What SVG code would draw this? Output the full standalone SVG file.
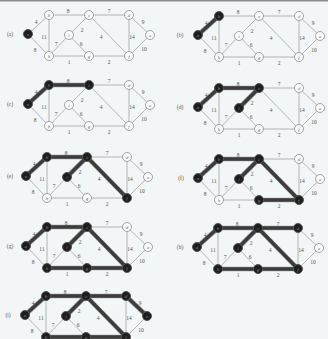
<svg xmlns="http://www.w3.org/2000/svg" xmlns:xlink="http://www.w3.org/1999/xlink" width="328" height="339" viewBox="0 0 328 339">
<style>
.bg{fill:#f2f6f6}
.thin line{stroke:#a2a6a6;stroke-width:0.8}
.thick line{stroke:#3c3c3c;stroke-width:3.4;stroke-linecap:round}
.halo line{stroke:#9a9a9a;stroke-width:4.6;stroke-linecap:round}
.w{font-family:"Liberation Serif",serif;font-size:5.5px;fill:#555;text-anchor:middle}
.lbl{font-family:"Liberation Serif",serif;font-size:5.5px;fill:#555;text-anchor:middle}
.node circle{fill:#fbfcfc;stroke:#8a8e8e;stroke-width:0.8}
.node text{font-family:"Liberation Serif",serif;font-style:italic;font-size:5px;fill:#666;text-anchor:middle}
.node.dark circle{fill:#1e1e1e;stroke:#555;stroke-width:1}
.node.dark text{fill:#888}
</style>
<defs>
<g id="base" class="thin">
<line x1="0" y1="0" x2="21" y2="-19"/>
<line x1="21" y1="-19" x2="61" y2="-19"/>
<line x1="61" y1="-19" x2="101" y2="-19"/>
<line x1="101" y1="-19" x2="122" y2="1"/>
<line x1="122" y1="1" x2="101" y2="22"/>
<line x1="101" y1="-19" x2="101" y2="22"/>
<line x1="61" y1="-19" x2="101" y2="22"/>
<line x1="61" y1="-19" x2="41" y2="1"/>
<line x1="41" y1="1" x2="61" y2="22"/>
<line x1="41" y1="1" x2="21" y2="22"/>
<line x1="21" y1="-19" x2="21" y2="22"/>
<line x1="0" y1="0" x2="21" y2="22"/>
<line x1="21" y1="22" x2="61" y2="22"/>
<line x1="61" y1="22" x2="101" y2="22"/>
</g>
<g id="weights">
<text class="w" x="8" y="-10">4</text>
<text class="w" x="40" y="-21">8</text>
<text class="w" x="81" y="-21">7</text>
<text class="w" x="115" y="-10">9</text>
<text class="w" x="116" y="17">10</text>
<text class="w" x="104" y="5">14</text>
<text class="w" x="73" y="5">4</text>
<text class="w" x="54" y="-2">2</text>
<text class="w" x="53" y="12">6</text>
<text class="w" x="28" y="12">7</text>
<text class="w" x="16" y="5">11</text>
<text class="w" x="7" y="18">8</text>
<text class="w" x="41" y="30">1</text>
<text class="w" x="81" y="30">2</text>
</g>
</defs>
<rect class="bg" x="0" y="0" width="328" height="339"/>
<rect x="0" y="0" width="328" height="1.5" fill="#8a8e8e"/>

<!-- (a) -->
<g id="panel-a" transform="translate(28,34)">
<text class="lbl" x="-18" y="2">(a)</text>
<use xlink:href="#base"/>
<g id="a-connectors"></g>
<use xlink:href="#weights"/>
<g id="a-na" class="node dark"><circle cx="0" cy="0" r="4.5"/><text x="0" y="1.7">a</text></g>
<g id="a-nb" class="node"><circle cx="21" cy="-19" r="4.5"/><text x="21" y="-17.3">b</text></g>
<g id="a-nc" class="node"><circle cx="61" cy="-19" r="4.5"/><text x="61" y="-17.3">c</text></g>
<g id="a-nd" class="node"><circle cx="101" cy="-19" r="4.5"/><text x="101" y="-17.3">d</text></g>
<g id="a-ne" class="node"><circle cx="122" cy="1" r="4.5"/><text x="122" y="2.7">e</text></g>
<g id="a-nf" class="node"><circle cx="101" cy="22" r="4.5"/><text x="101" y="23.7">f</text></g>
<g id="a-ng" class="node"><circle cx="61" cy="22" r="4.5"/><text x="61" y="23.7">g</text></g>
<g id="a-nh" class="node"><circle cx="21" cy="22" r="4.5"/><text x="21" y="23.7">h</text></g>
<g id="a-ni" class="node"><circle cx="41" cy="1" r="4.5"/><text x="41" y="2.7">i</text></g>
</g>

<!-- (b) -->
<g id="panel-b" transform="translate(198,35)">
<text class="lbl" x="-18" y="2">(b)</text>
<use xlink:href="#base"/>
<g id="b-connectors">
<g class="halo"><line x1="0" y1="0" x2="21" y2="-19"/></g>
<g class="thick"><line x1="0" y1="0" x2="21" y2="-19"/></g>
</g>
<use xlink:href="#weights"/>
<g id="b-na" class="node dark"><circle cx="0" cy="0" r="4.5"/><text x="0" y="1.7">a</text></g>
<g id="b-nb" class="node dark"><circle cx="21" cy="-19" r="4.5"/><text x="21" y="-17.3">b</text></g>
<g id="b-nc" class="node"><circle cx="61" cy="-19" r="4.5"/><text x="61" y="-17.3">c</text></g>
<g id="b-nd" class="node"><circle cx="101" cy="-19" r="4.5"/><text x="101" y="-17.3">d</text></g>
<g id="b-ne" class="node"><circle cx="122" cy="1" r="4.5"/><text x="122" y="2.7">e</text></g>
<g id="b-nf" class="node"><circle cx="101" cy="22" r="4.5"/><text x="101" y="23.7">f</text></g>
<g id="b-ng" class="node"><circle cx="61" cy="22" r="4.5"/><text x="61" y="23.7">g</text></g>
<g id="b-nh" class="node"><circle cx="21" cy="22" r="4.5"/><text x="21" y="23.7">h</text></g>
<g id="b-ni" class="node"><circle cx="41" cy="1" r="4.5"/><text x="41" y="2.7">i</text></g>
</g>

<!-- (c) -->
<g id="panel-c" transform="translate(28,104)">
<text class="lbl" x="-18" y="2">(c)</text>
<use xlink:href="#base"/>
<g id="c-connectors">
<g class="halo"><line x1="0" y1="0" x2="21" y2="-19"/><line x1="21" y1="-19" x2="61" y2="-19"/></g>
<g class="thick"><line x1="0" y1="0" x2="21" y2="-19"/><line x1="21" y1="-19" x2="61" y2="-19"/></g>
</g>
<use xlink:href="#weights"/>
<g id="c-na" class="node dark"><circle cx="0" cy="0" r="4.5"/><text x="0" y="1.7">a</text></g>
<g id="c-nb" class="node dark"><circle cx="21" cy="-19" r="4.5"/><text x="21" y="-17.3">b</text></g>
<g id="c-nc" class="node dark"><circle cx="61" cy="-19" r="4.5"/><text x="61" y="-17.3">c</text></g>
<g id="c-nd" class="node"><circle cx="101" cy="-19" r="4.5"/><text x="101" y="-17.3">d</text></g>
<g id="c-ne" class="node"><circle cx="122" cy="1" r="4.5"/><text x="122" y="2.7">e</text></g>
<g id="c-nf" class="node"><circle cx="101" cy="22" r="4.5"/><text x="101" y="23.7">f</text></g>
<g id="c-ng" class="node"><circle cx="61" cy="22" r="4.5"/><text x="61" y="23.7">g</text></g>
<g id="c-nh" class="node"><circle cx="21" cy="22" r="4.5"/><text x="21" y="23.7">h</text></g>
<g id="c-ni" class="node"><circle cx="41" cy="1" r="4.5"/><text x="41" y="2.7">i</text></g>
</g>

<!-- (d) -->
<g id="panel-d" transform="translate(198,107)">
<text class="lbl" x="-18" y="2">(d)</text>
<use xlink:href="#base"/>
<g id="d-connectors">
<g class="halo"><line x1="0" y1="0" x2="21" y2="-19"/><line x1="21" y1="-19" x2="61" y2="-19"/><line x1="61" y1="-19" x2="41" y2="1"/></g>
<g class="thick"><line x1="0" y1="0" x2="21" y2="-19"/><line x1="21" y1="-19" x2="61" y2="-19"/><line x1="61" y1="-19" x2="41" y2="1"/></g>
</g>
<use xlink:href="#weights"/>
<g id="d-na" class="node dark"><circle cx="0" cy="0" r="4.5"/><text x="0" y="1.7">a</text></g>
<g id="d-nb" class="node dark"><circle cx="21" cy="-19" r="4.5"/><text x="21" y="-17.3">b</text></g>
<g id="d-nc" class="node dark"><circle cx="61" cy="-19" r="4.5"/><text x="61" y="-17.3">c</text></g>
<g id="d-nd" class="node"><circle cx="101" cy="-19" r="4.5"/><text x="101" y="-17.3">d</text></g>
<g id="d-ne" class="node"><circle cx="122" cy="1" r="4.5"/><text x="122" y="2.7">e</text></g>
<g id="d-nf" class="node"><circle cx="101" cy="22" r="4.5"/><text x="101" y="23.7">f</text></g>
<g id="d-ng" class="node"><circle cx="61" cy="22" r="4.5"/><text x="61" y="23.7">g</text></g>
<g id="d-nh" class="node"><circle cx="21" cy="22" r="4.5"/><text x="21" y="23.7">h</text></g>
<g id="d-ni" class="node dark"><circle cx="41" cy="1" r="4.5"/><text x="41" y="2.7">i</text></g>
</g>

<!-- (e) -->
<g id="panel-e" transform="translate(26,176)">
<text class="lbl" x="-16" y="2">(e)</text>
<use xlink:href="#base"/>
<g id="e-connectors">
<g class="halo"><line x1="0" y1="0" x2="21" y2="-19"/><line x1="21" y1="-19" x2="61" y2="-19"/><line x1="61" y1="-19" x2="41" y2="1"/><line x1="61" y1="-19" x2="101" y2="22"/></g>
<g class="thick"><line x1="0" y1="0" x2="21" y2="-19"/><line x1="21" y1="-19" x2="61" y2="-19"/><line x1="61" y1="-19" x2="41" y2="1"/><line x1="61" y1="-19" x2="101" y2="22"/></g>
</g>
<use xlink:href="#weights"/>
<g id="e-na" class="node dark"><circle cx="0" cy="0" r="4.5"/><text x="0" y="1.7">a</text></g>
<g id="e-nb" class="node dark"><circle cx="21" cy="-19" r="4.5"/><text x="21" y="-17.3">b</text></g>
<g id="e-nc" class="node dark"><circle cx="61" cy="-19" r="4.5"/><text x="61" y="-17.3">c</text></g>
<g id="e-nd" class="node"><circle cx="101" cy="-19" r="4.5"/><text x="101" y="-17.3">d</text></g>
<g id="e-ne" class="node"><circle cx="122" cy="1" r="4.5"/><text x="122" y="2.7">e</text></g>
<g id="e-nf" class="node dark"><circle cx="101" cy="22" r="4.5"/><text x="101" y="23.7">f</text></g>
<g id="e-ng" class="node"><circle cx="61" cy="22" r="4.5"/><text x="61" y="23.7">g</text></g>
<g id="e-nh" class="node"><circle cx="21" cy="22" r="4.5"/><text x="21" y="23.7">h</text></g>
<g id="e-ni" class="node dark"><circle cx="41" cy="1" r="4.5"/><text x="41" y="2.7">i</text></g>
</g>

<!-- (f) -->
<g id="panel-f" transform="translate(198,178)">
<text class="lbl" x="-17" y="2">(f)</text>
<use xlink:href="#base"/>
<g id="f-connectors">
<g class="halo"><line x1="0" y1="0" x2="21" y2="-19"/><line x1="21" y1="-19" x2="61" y2="-19"/><line x1="61" y1="-19" x2="41" y2="1"/><line x1="61" y1="-19" x2="101" y2="22"/><line x1="61" y1="22" x2="101" y2="22"/></g>
<g class="thick"><line x1="0" y1="0" x2="21" y2="-19"/><line x1="21" y1="-19" x2="61" y2="-19"/><line x1="61" y1="-19" x2="41" y2="1"/><line x1="61" y1="-19" x2="101" y2="22"/><line x1="61" y1="22" x2="101" y2="22"/></g>
</g>
<use xlink:href="#weights"/>
<g id="f-na" class="node dark"><circle cx="0" cy="0" r="4.5"/><text x="0" y="1.7">a</text></g>
<g id="f-nb" class="node dark"><circle cx="21" cy="-19" r="4.5"/><text x="21" y="-17.3">b</text></g>
<g id="f-nc" class="node dark"><circle cx="61" cy="-19" r="4.5"/><text x="61" y="-17.3">c</text></g>
<g id="f-nd" class="node"><circle cx="101" cy="-19" r="4.5"/><text x="101" y="-17.3">d</text></g>
<g id="f-ne" class="node"><circle cx="122" cy="1" r="4.5"/><text x="122" y="2.7">e</text></g>
<g id="f-nf" class="node dark"><circle cx="101" cy="22" r="4.5"/><text x="101" y="23.7">f</text></g>
<g id="f-ng" class="node dark"><circle cx="61" cy="22" r="4.5"/><text x="61" y="23.7">g</text></g>
<g id="f-nh" class="node"><circle cx="21" cy="22" r="4.5"/><text x="21" y="23.7">h</text></g>
<g id="f-ni" class="node dark"><circle cx="41" cy="1" r="4.5"/><text x="41" y="2.7">i</text></g>
</g>

<!-- (g) -->
<g id="panel-g" transform="translate(26,246)">
<text class="lbl" x="-16" y="2">(g)</text>
<use xlink:href="#base"/>
<g id="g-connectors">
<g class="halo"><line x1="0" y1="0" x2="21" y2="-19"/><line x1="21" y1="-19" x2="61" y2="-19"/><line x1="61" y1="-19" x2="41" y2="1"/><line x1="61" y1="-19" x2="101" y2="22"/><line x1="61" y1="22" x2="101" y2="22"/><line x1="21" y1="22" x2="61" y2="22"/></g>
<g class="thick"><line x1="0" y1="0" x2="21" y2="-19"/><line x1="21" y1="-19" x2="61" y2="-19"/><line x1="61" y1="-19" x2="41" y2="1"/><line x1="61" y1="-19" x2="101" y2="22"/><line x1="61" y1="22" x2="101" y2="22"/><line x1="21" y1="22" x2="61" y2="22"/></g>
</g>
<use xlink:href="#weights"/>
<g id="g-na" class="node dark"><circle cx="0" cy="0" r="4.5"/><text x="0" y="1.7">a</text></g>
<g id="g-nb" class="node dark"><circle cx="21" cy="-19" r="4.5"/><text x="21" y="-17.3">b</text></g>
<g id="g-nc" class="node dark"><circle cx="61" cy="-19" r="4.5"/><text x="61" y="-17.3">c</text></g>
<g id="g-nd" class="node"><circle cx="101" cy="-19" r="4.5"/><text x="101" y="-17.3">d</text></g>
<g id="g-ne" class="node"><circle cx="122" cy="1" r="4.5"/><text x="122" y="2.7">e</text></g>
<g id="g-nf" class="node dark"><circle cx="101" cy="22" r="4.5"/><text x="101" y="23.7">f</text></g>
<g id="g-ng" class="node dark"><circle cx="61" cy="22" r="4.5"/><text x="61" y="23.7">g</text></g>
<g id="g-nh" class="node dark"><circle cx="21" cy="22" r="4.5"/><text x="21" y="23.7">h</text></g>
<g id="g-ni" class="node dark"><circle cx="41" cy="1" r="4.5"/><text x="41" y="2.7">i</text></g>
</g>

<!-- (h) -->
<g id="panel-h" transform="translate(197,247)">
<text class="lbl" x="-17" y="2">(h)</text>
<use xlink:href="#base"/>
<g id="h-connectors">
<g class="halo"><line x1="0" y1="0" x2="21" y2="-19"/><line x1="21" y1="-19" x2="61" y2="-19"/><line x1="61" y1="-19" x2="41" y2="1"/><line x1="61" y1="-19" x2="101" y2="22"/><line x1="61" y1="22" x2="101" y2="22"/><line x1="21" y1="22" x2="61" y2="22"/><line x1="61" y1="-19" x2="101" y2="-19"/></g>
<g class="thick"><line x1="0" y1="0" x2="21" y2="-19"/><line x1="21" y1="-19" x2="61" y2="-19"/><line x1="61" y1="-19" x2="41" y2="1"/><line x1="61" y1="-19" x2="101" y2="22"/><line x1="61" y1="22" x2="101" y2="22"/><line x1="21" y1="22" x2="61" y2="22"/><line x1="61" y1="-19" x2="101" y2="-19"/></g>
</g>
<use xlink:href="#weights"/>
<g id="h-na" class="node dark"><circle cx="0" cy="0" r="4.5"/><text x="0" y="1.7">a</text></g>
<g id="h-nb" class="node dark"><circle cx="21" cy="-19" r="4.5"/><text x="21" y="-17.3">b</text></g>
<g id="h-nc" class="node dark"><circle cx="61" cy="-19" r="4.5"/><text x="61" y="-17.3">c</text></g>
<g id="h-nd" class="node dark"><circle cx="101" cy="-19" r="4.5"/><text x="101" y="-17.3">d</text></g>
<g id="h-ne" class="node"><circle cx="122" cy="1" r="4.5"/><text x="122" y="2.7">e</text></g>
<g id="h-nf" class="node dark"><circle cx="101" cy="22" r="4.5"/><text x="101" y="23.7">f</text></g>
<g id="h-ng" class="node dark"><circle cx="61" cy="22" r="4.5"/><text x="61" y="23.7">g</text></g>
<g id="h-nh" class="node dark"><circle cx="21" cy="22" r="4.5"/><text x="21" y="23.7">h</text></g>
<g id="h-ni" class="node dark"><circle cx="41" cy="1" r="4.5"/><text x="41" y="2.7">i</text></g>
</g>

<!-- (i) -->
<g id="panel-i" transform="translate(25,315)">
<text class="lbl" x="-17" y="2">(i)</text>
<use xlink:href="#base"/>
<g id="i-connectors">
<g class="halo"><line x1="0" y1="0" x2="21" y2="-19"/><line x1="21" y1="-19" x2="61" y2="-19"/><line x1="61" y1="-19" x2="41" y2="1"/><line x1="61" y1="-19" x2="101" y2="22"/><line x1="61" y1="22" x2="101" y2="22"/><line x1="21" y1="22" x2="61" y2="22"/><line x1="61" y1="-19" x2="101" y2="-19"/><line x1="101" y1="-19" x2="122" y2="1"/></g>
<g class="thick"><line x1="0" y1="0" x2="21" y2="-19"/><line x1="21" y1="-19" x2="61" y2="-19"/><line x1="61" y1="-19" x2="41" y2="1"/><line x1="61" y1="-19" x2="101" y2="22"/><line x1="61" y1="22" x2="101" y2="22"/><line x1="21" y1="22" x2="61" y2="22"/><line x1="61" y1="-19" x2="101" y2="-19"/><line x1="101" y1="-19" x2="122" y2="1"/></g>
</g>
<use xlink:href="#weights"/>
<g id="i-na" class="node dark"><circle cx="0" cy="0" r="4.5"/><text x="0" y="1.7">a</text></g>
<g id="i-nb" class="node dark"><circle cx="21" cy="-19" r="4.5"/><text x="21" y="-17.3">b</text></g>
<g id="i-nc" class="node dark"><circle cx="61" cy="-19" r="4.5"/><text x="61" y="-17.3">c</text></g>
<g id="i-nd" class="node dark"><circle cx="101" cy="-19" r="4.5"/><text x="101" y="-17.3">d</text></g>
<g id="i-ne" class="node dark"><circle cx="122" cy="1" r="4.5"/><text x="122" y="2.7">e</text></g>
<g id="i-nf" class="node dark"><circle cx="101" cy="22" r="4.5"/><text x="101" y="23.7">f</text></g>
<g id="i-ng" class="node dark"><circle cx="61" cy="22" r="4.5"/><text x="61" y="23.7">g</text></g>
<g id="i-nh" class="node dark"><circle cx="21" cy="22" r="4.5"/><text x="21" y="23.7">h</text></g>
<g id="i-ni" class="node dark"><circle cx="41" cy="1" r="4.5"/><text x="41" y="2.7">i</text></g>
</g>
</svg>
